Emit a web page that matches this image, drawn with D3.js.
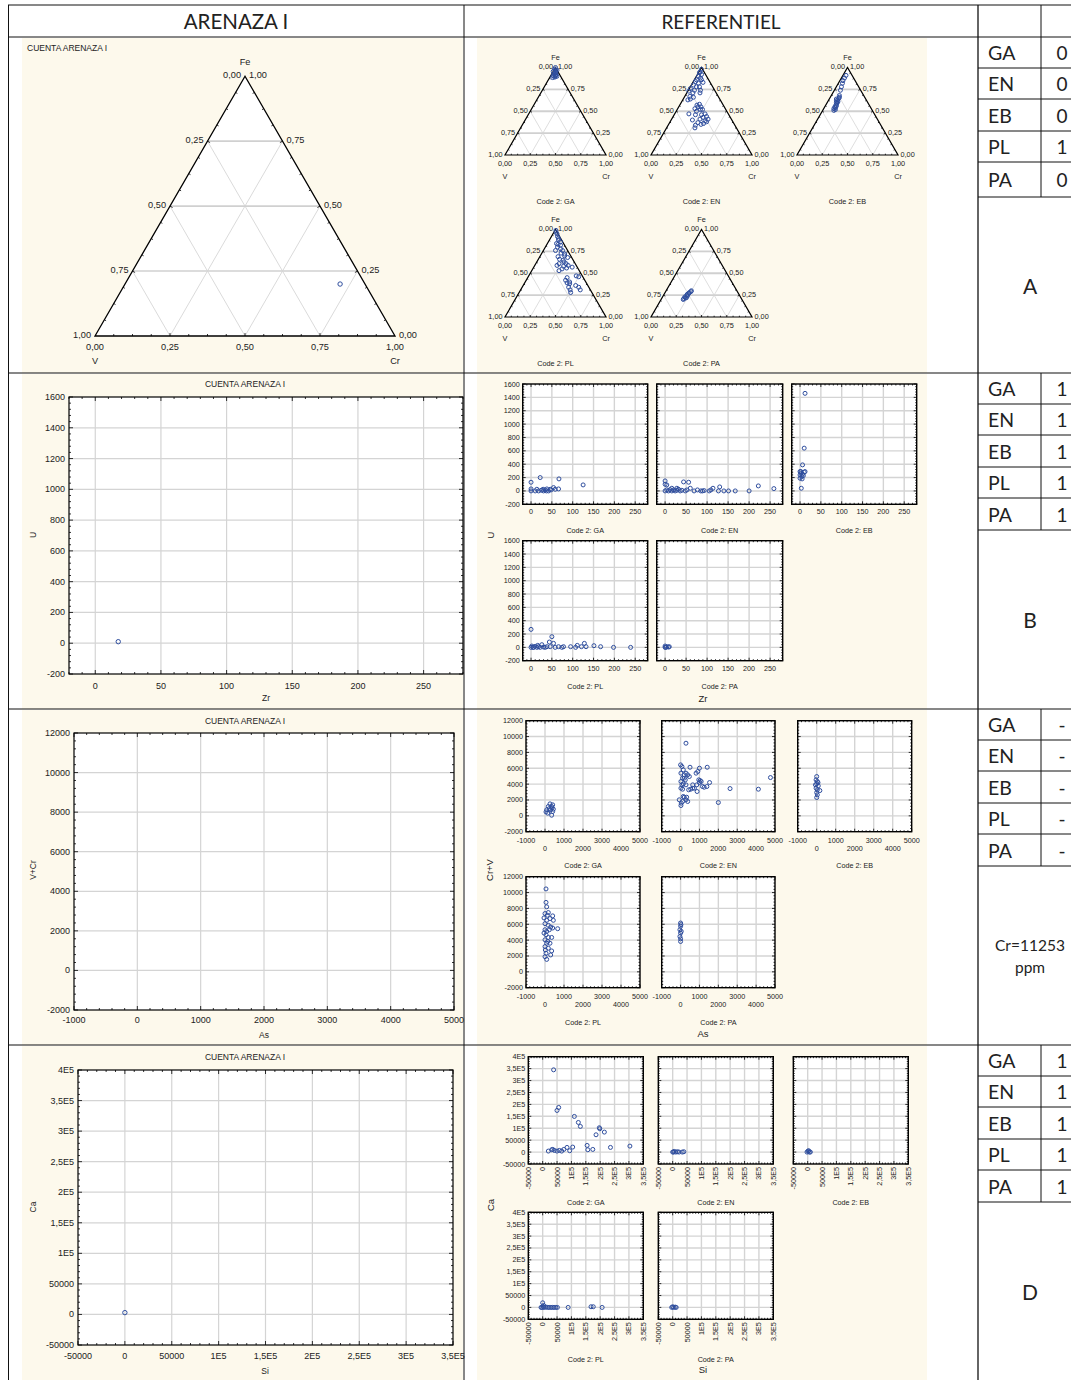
<!DOCTYPE html>
<html><head><meta charset="utf-8">
<script src="https://cdn.jsdelivr.net/npm/d3@7"></script>
<style>body{margin:0;background:#fff;} svg{display:block;}</style>
</head><body>
<svg id="chart" width="1071" height="1380"></svg>
<script>
// ---------------- DATA ----------------
const codes = ["GA","EN","EB","PL","PA"];
const scoreA = ["0","0","0","1","0"];
const scoreB = ["1","1","1","1","1"];
const scoreC = ["-","-","-","-","-"];
const scoreD = ["1","1","1","1","1"];
const sectionNotes = [["A"],["B"],["Cr=11253","ppm"],["D"]];
const headers = ["ARENAZA I","REFERENTIEL"];
const sampleName = "CUENTA ARENAZA I";

// ternary Fe-V-Cr : [Fe, Cr] (V = 1 - Fe - Cr)
const ternTicks = [0,0.25,0.5,0.75,1];
const ternTickLabels = ["0,00","0,25","0,50","0,75","1,00"];
const sampleTern = [[0.20,0.717]];
const ternGA = [[1.00,0.00],[0.98,0.00],[0.97,0.015],[0.955,0.00],[0.94,0.034],[0.93,0.021],[0.91,0.042],[0.905,0.023],[0.89,0.047],[0.90,0.064],[0.885,0.029],[0.92,0.045],[0.97,0.03],[0.95,0.025],[0.90,0.05]];
const ternEN = [[0.98,0.01],[0.95,0.01],[0.94,0.01],[0.92,0.04],[0.90,0.02],[0.88,0.05],[0.86,0.02],[0.86,0.07],[0.84,0.02],[0.82,0.06],[0.83,0.10],[0.80,0.02],[0.78,0.06],[0.78,0.09],[0.76,0.01],[0.74,0.06],[0.74,0.12],[0.73,0.01],[0.71,0.06],[0.71,0.13],[0.67,0.05],[0.66,0.09],[0.64,0.07],[0.63,0.05],[0.57,0.17],[0.58,0.19],[0.55,0.19],[0.55,0.22],[0.53,0.17],[0.52,0.25],[0.52,0.23],[0.50,0.20],[0.47,0.30],[0.46,0.27],[0.47,0.14],[0.46,0.21],[0.44,0.33],[0.43,0.30],[0.41,0.36],[0.41,0.28],[0.40,0.21],[0.39,0.34],[0.38,0.36],[0.37,0.28],[0.36,0.34],[0.35,0.32],[0.34,0.27],[0.31,0.28]];
const ternEB = [[0.91,0.03],[0.88,0.03],[0.85,0.03],[0.82,0.04],[0.78,0.05],[0.74,0.06],[0.68,0.08],[0.66,0.09],[0.65,0.09],[0.64,0.07],[0.63,0.09],[0.61,0.10],[0.59,0.10],[0.57,0.10],[0.55,0.10],[0.53,0.10],[0.52,0.12],[0.51,0.11],[0.54,0.11],[0.56,0.11],[0.60,0.09],[0.62,0.08]];
const ternPL = [[0.99,0.01],[0.95,0.04],[0.92,0.06],[0.88,0.09],[0.84,0.09],[0.83,0.11],[0.82,0.14],[0.76,0.12],[0.78,0.16],[0.76,0.19],[0.73,0.19],[0.72,0.23],[0.69,0.18],[0.68,0.28],[0.66,0.21],[0.65,0.25],[0.61,0.23],[0.61,0.30],[0.59,0.22],[0.58,0.29],[0.59,0.33],[0.57,0.38],[0.55,0.29],[0.53,0.27],[0.47,0.47],[0.46,0.50],[0.42,0.39],[0.39,0.42],[0.38,0.45],[0.36,0.52],[0.34,0.56],[0.34,0.46],[0.31,0.49],[0.31,0.59],[0.28,0.51],[0.45,0.39],[0.97,0.02],[0.90,0.08],[0.86,0.12],[0.80,0.12],[0.70,0.24],[0.63,0.27],[0.56,0.33],[0.40,0.44]];
const ternPA = [[0.29,0.25],[0.27,0.24],[0.25,0.23],[0.23,0.22],[0.21,0.22],[0.22,0.24],[0.28,0.24],[0.24,0.24],[0.20,0.22],[0.30,0.25],[0.26,0.23],[0.22,0.23]];

// Zr vs U
const zrTicks = [0,50,100,150,200,250];
const uTicks = [-200,0,200,400,600,800,1000,1200,1400,1600];
const sampleZrU = [[17.5,10]];
const zrGA = [[0,130],[0,30],[0,0],[22,200],[14,25],[18,0],[25,10],[30,0],[34,15],[38,30],[42,0],[46,25],[48,15],[54,50],[58,25],[66,30],[67,180],[125,90],[10,0],[29,25],[37,0]];
const zrEN = [[0,150],[0,100],[4,90],[0,0],[4,15],[8,0],[12,20],[16,0],[20,15],[24,0],[28,10],[32,25],[36,0],[40,10],[44,135],[48,0],[52,15],[56,130],[60,40],[69,0],[77,15],[85,0],[93,5],[105,0],[114,40],[130,60],[127,0],[140,0],[151,0],[167,0],[200,0],[222,75],[259,35],[89,0],[109,15],[16,40],[28,40]];
const zrEB = [[12,1460],[10,640],[6,390],[12,290],[0,240],[2,265],[4,215],[0,190],[6,250],[2,290],[8,230],[5,180],[3,40],[0,290],[10,280]];
const zrPL = [[0,270],[0,0],[2,20],[6,0],[10,15],[14,0],[18,10],[22,0],[26,40],[30,5],[34,0],[38,10],[44,80],[46,10],[50,160],[54,60],[58,0],[66,10],[74,0],[78,10],[95,10],[107,0],[111,30],[121,10],[128,60],[132,10],[151,25],[167,10],[198,0],[239,0],[5,0],[16,30]];
const zrPA = [[0,20],[2,0],[4,10],[8,5],[0,0],[10,10]];

// As vs Cr+V
const asTicks = [-1000,0,1000,2000,3000,4000,5000];
const crvTicks = [-2000,0,2000,4000,6000,8000,10000,12000];
const sampleAs = [];
const asGA = [[263,1510],[175,1180],[88,760],[53,500],[140,340],[350,1180],[403,1390],[439,840],[403,550],[350,80],[298,760],[228,920],[368,1010]];
const asEN = [[286,9160],[0,6430],[71,6220],[143,5800],[18,5380],[196,5170],[286,5380],[375,5170],[464,4960],[500,6130],[107,4750],[250,4540],[18,4330],[143,4030],[286,3910],[18,3490],[107,3360],[-71,2020],[36,1600],[18,1300],[107,1810],[196,2350],[286,2020],[375,1810],[321,2350],[429,3280],[643,3490],[821,5380],[911,5590],[1000,6010],[1089,4330],[1000,4200],[857,3910],[732,3490],[875,3070],[1161,3700],[1250,3610],[1393,3700],[1411,6130],[1536,4200],[2000,1680],[2620,3440],[4120,3360],[4760,4830],[196,4750],[71,3910],[643,3910],[1036,4450],[964,4540],[536,3360],[143,2440]];
const asEB = [[0,4960],[-33,4540],[33,4330],[0,4030],[83,3780],[-33,3490],[33,3280],[0,2940],[33,2650],[0,2310],[167,3190],[67,4200],[-67,3910]];
const asPL = [[53,10460],[53,8760],[88,8200],[0,7350],[175,7480],[403,7060],[263,6720],[88,6500],[0,6080],[175,5870],[298,5650],[667,5440],[0,5310],[88,5100],[53,4680],[175,4340],[350,4340],[0,4040],[88,3610],[263,3610],[0,3190],[175,2980],[350,2640],[53,2340],[0,1910],[88,1570],[298,2130],[-53,6800],[-53,4890],[228,5310],[439,6500],[403,5530],[123,7140],[18,2760],[140,3830]];
const asPA = [[0,6160],[0,5740],[-35,5310],[0,4890],[-35,4460],[0,4170],[0,3830],[35,5100],[18,5950]];

// Si vs Ca
const siTicks = [-50000,0,50000,100000,150000,200000,250000,300000,350000];
const siTickLabels = ["-50000","0","50000","1E5","1,5E5","2E5","2,5E5","3E5","3,5E5"];
const caTicks = [-50000,0,50000,100000,150000,200000,250000,300000,350000,400000];
const caTickLabels = ["-50000","0","50000","1E5","1,5E5","2E5","2,5E5","3E5","3,5E5","4E5"];
const sampleSi = [[0,3000]];
const siGA = [[38000,345000],[49880,174600],[55680,187200],[110200,149500],[124100,124300],[131100,107600],[197000,102000],[198700,97800],[185600,72600],[214600,83800],[19720,4190],[31320,9780],[34800,11180],[40600,6990],[49880,4190],[58000,6990],[66120,4190],[73430,11180],[84680,19560],[93960,5590],[104400,20950],[154600,27940],[156900,9780],[174300,11180],[235800,19560],[303400,25150]];
const siEN = [[0,0],[5560,2800],[11100,0],[16700,1400],[22200,0],[33300,0],[38900,1400],[3300,0]];
const siEB = [[-2300,0],[1160,4190],[5800,0],[9300,0],[3500,5590]];
const siPL = [[0,19440],[-2270,0],[2270,1390],[-5680,0],[5680,0],[11360,1390],[17040,0],[22720,0],[28400,0],[34080,0],[39760,0],[45440,0],[51120,0],[88600,0],[168100,2780],[176000,2780],[206800,0],[3400,8330]];
const siPA = [[0,2780],[3330,0],[8890,1390],[-3330,0],[12220,0]];

// ---------------- DRAWING ----------------
const svg = d3.select("#chart");
const FONT = "Arial, 'Liberation Sans', sans-serif";
const CAL = "Lato, 'Open Sans', sans-serif";
const BEIGE = "#FDF9EC";
const PT = "#2F4E9E";
const TXT = "#222";
const rowTops = [37, 373, 709, 1045, 1380];

svg.append("rect").attr("width",1071).attr("height",1380).attr("fill","#fff");
for (let i = 0; i < 4; i++) {
  svg.append("rect").attr("x",22).attr("y",rowTops[i]+1).attr("width",441).attr("height",rowTops[i+1]-rowTops[i]-1).attr("fill",BEIGE);
  svg.append("rect").attr("x",477).attr("y",rowTops[i]+1).attr("width",450).attr("height",rowTops[i+1]-rowTops[i]-1).attr("fill",BEIGE);
}

function txt(g, x, y, s, size, anchor, fam, extra) {
  const t = g.append("text").attr("x",x).attr("y",y).text(s)
    .attr("font-family",fam||FONT).attr("font-size",size).attr("fill",TXT)
    .attr("text-anchor",anchor||"middle").attr("dominant-baseline","central");
  if (extra) extra(t);
  return t;
}

function ternary(x0, yb, w, data, o) {
  const g = svg.append("g");
  const h = w*Math.sqrt(3)/2;
  const xs = d3.scaleLinear().domain([0,1]).range([x0, x0+w]);
  const ys = d3.scaleLinear().domain([0,1]).range([yb, yb-h]);
  const P = (cr, fe) => [xs(cr+fe/2), ys(fe)];
  const ln = (a,b,st,sw) => g.append("line").attr("x1",a[0]).attr("y1",a[1]).attr("x2",b[0]).attr("y2",b[1]).attr("stroke",st).attr("stroke-width",sw);
  g.append("path").attr("d", d3.line()([P(0,0),P(1,0),P(0,1)])+"Z").attr("fill","#fff");
  ternTicks.slice(1,4).forEach(k => {
    ln(P(k,0),P(k,1-k),"#d6d6d6",o.dw);
    ln(P(1-k,0),P(0,1-k),"#d6d6d6",o.dw);
    ln(P(0,k),P(1-k,k),"#d0d0d0",o.hw);
  });
  d3.range(1,16).forEach(i => {
    const t = i/16, L = (i%4===0) ? o.tM : o.tm;
    let p = P(t,0); ln(p,[p[0],p[1]-L],"#000",0.8);
    p = P(0,t); ln(p,[p[0]+L*0.866,p[1]+L*0.5],"#000",0.8);
    p = P(1-t,t); ln(p,[p[0]-L*0.866,p[1]+L*0.5],"#000",0.8);
  });
  g.append("path").attr("d", d3.line()([P(0,0),P(1,0),P(0,1)])+"Z").attr("fill","none").attr("stroke","#000").attr("stroke-width",o.ew);
  const fs = o.fs;
  ternTicks.forEach((fe,i) => {
    const pl = P(0,fe), pr = P(1-fe,fe), pb = P(fe,0);
    txt(g, pl[0]-o.lo, pl[1]-1, ternTickLabels[4-i], fs, "end");
    txt(g, pr[0]+o.lo, pr[1]-1, ternTickLabels[i], fs, "start");
    txt(g, pb[0], pb[1]+o.bo, ternTickLabels[i], fs, "middle");
  });
  const ap = P(0,1);
  txt(g, ap[0], ap[1]-o.feo, "Fe", fs, "middle");
  txt(g, P(0,0)[0], yb+o.vo, "V", fs, "middle");
  txt(g, P(1,0)[0], yb+o.vo, "Cr", fs, "middle");
  g.selectAll("circle.pt").data(data).enter().append("circle")
    .attr("cx", d => P(d[1], d[0])[0]).attr("cy", d => P(d[1], d[0])[1])
    .attr("r", o.r).attr("fill","none").attr("stroke",PT).attr("stroke-width",1);
  if (o.code) txt(g, ap[0], yb+o.co, o.code, fs, "middle");
}

// Main ternary
txt(svg, 27, 48, sampleName, 8.5, "start");
ternary(95, 336, 300, sampleTern, {fs:9.2, lo:4, bo:11, feo:14.5, vo:25, dw:0.9, hw:1.6, ew:1.3, tM:3, tm:2, r:2.2});
// Reference ternaries
const ternSets = [ternGA, ternEN, ternEB, ternPL, ternPA];
const smallX = [505, 651, 797];
const smallYB = [155, 317];
ternSets.forEach((d,i) => {
  const r = i < 3 ? 0 : 1, c = i < 3 ? i : i-3;
  ternary(smallX[c], smallYB[r], 101, d, {fs:7.3, lo:2.5, bo:8, feo:10.5, vo:21, dw:0.8, hw:1.8, ew:1.2, tM:2, tm:1.3, r:2, code:"Code 2: "+codes[i], co:46});
});

function scatter(box, xDom, yDom, xT, xL, yT, yL, data, o) {
  const g = svg.append("g");
  const x = d3.scaleLinear().domain(xDom).range([box[0], box[1]]);
  const y = d3.scaleLinear().domain(yDom).range([box[3], box[2]]);
  g.append("rect").attr("x",box[0]).attr("y",box[2]).attr("width",box[1]-box[0]).attr("height",box[3]-box[2]).attr("fill","#fff");
  xT.forEach(v => { if (v > xDom[0] && v < xDom[1]) g.append("line").attr("x1",x(v)).attr("x2",x(v)).attr("y1",box[2]).attr("y2",box[3]).attr("stroke","#d4d4d4").attr("stroke-width",o.gw); });
  yT.forEach(v => { if (v > yDom[0] && v < yDom[1]) g.append("line").attr("y1",y(v)).attr("y2",y(v)).attr("x1",box[0]).attr("x2",box[1]).attr("stroke","#d4d4d4").attr("stroke-width",o.gw); });
  const cid = "c" + Math.round(box[0]) + "_" + Math.round(box[2]);
  g.append("clipPath").attr("id",cid).append("rect").attr("x",box[0]-3).attr("y",box[2]-3).attr("width",box[1]-box[0]+6).attr("height",box[3]-box[2]+6);
  g.append("g").attr("clip-path","url(#"+cid+")").selectAll("circle").data(data).enter().append("circle")
    .attr("cx", d => x(d[0])).attr("cy", d => y(d[1])).attr("r", o.r)
    .attr("fill","none").attr("stroke",PT).attr("stroke-width",1);
  const tk = (T, dom, sub) => {
    const st = (T[1]-T[0])/sub, out = [];
    for (let v = Math.ceil(dom[0]/st)*st; v <= dom[1]+1e-9; v += st) out.push([v, T.some(t => Math.abs(t-v) < st/10)]);
    return out;
  };
  tk(xT, xDom, o.sub).forEach(([v,maj]) => {
    const L = maj ? o.tM : o.tm, px = x(v);
    g.append("line").attr("x1",px).attr("x2",px).attr("y1",box[3]).attr("y2",box[3]-L).attr("stroke","#000").attr("stroke-width",0.8);
    g.append("line").attr("x1",px).attr("x2",px).attr("y1",box[2]).attr("y2",box[2]+L).attr("stroke","#000").attr("stroke-width",0.8);
  });
  tk(yT, yDom, o.sub).forEach(([v,maj]) => {
    const L = maj ? o.tM : o.tm, py = y(v);
    g.append("line").attr("y1",py).attr("y2",py).attr("x1",box[0]).attr("x2",box[0]+L).attr("stroke","#000").attr("stroke-width",0.8);
    g.append("line").attr("y1",py).attr("y2",py).attr("x1",box[1]).attr("x2",box[1]-L).attr("stroke","#000").attr("stroke-width",0.8);
  });
  g.append("rect").attr("x",box[0]).attr("y",box[2]).attr("width",box[1]-box[0]).attr("height",box[3]-box[2]).attr("fill","none").attr("stroke","#000").attr("stroke-width",o.fw);
  if (!o.noY) yT.forEach((v,i) => txt(g, box[0]-o.ylo, y(v), yL[i], o.fs, "end"));
  xT.forEach((v,i) => {
    if (o.mode === "stagger") txt(g, x(v), box[3] + (i%2===0 ? o.xlo : o.xlo2), xL[i], o.fs, "middle");
    else if (o.mode === "rotate") txt(g, 0, 0, xL[i], o.fs, "end", null, t => t.attr("transform","translate("+x(v)+","+(box[3]+o.xlo)+") rotate(-90)"));
    else txt(g, x(v), box[3]+o.xlo, xL[i], o.fs, "middle");
  });
  if (o.code) txt(g, (box[0]+box[1])/2, o.codeY, o.code, o.fs, "middle");
}

const fmt = a => a.map(v => String(v));
const mainOpt = {fs:9, gw:1.2, r:2.2, sub:5, tM:4, tm:2, fw:1.2, ylo:4};
const smallOpt = {fs:7.2, gw:1.4, r:2, sub:5, tM:3, tm:1.5, fw:1.4, ylo:3};

// Section B
txt(svg, 245, 384, sampleName, 8.5);
scatter([69,463,397,674], [-20,280], [-200,1600], zrTicks, fmt(zrTicks), uTicks, fmt(uTicks), sampleZrU, Object.assign({}, mainOpt, {xlo:11.5}));
txt(svg, 266, 698, "Zr", 8.5);
txt(svg, 0, 0, "U", 8.5, "middle", null, t => t.attr("transform","translate(33,535) rotate(-90)"));
const zrSets = [zrGA, zrEN, zrEB, zrPL, zrPA];
const bX = [[522.7,647.7],[656.7,782.7],[791.7,916.7]];
const bY = [[384,504.3],[540.7,660.7]];
const bCodeY = [530, 686];
zrSets.forEach((d,i) => {
  const r = i < 3 ? 0 : 1, c = i < 3 ? i : i-3;
  scatter([bX[c][0],bX[c][1],bY[r][0],bY[r][1]], [-20,280], [-200,1600], zrTicks, fmt(zrTicks), uTicks, fmt(uTicks), d, Object.assign({}, smallOpt, {xlo:7.5, noY:c>0, code:"Code 2: "+codes[i], codeY:bCodeY[r]}));
});
txt(svg, 703, 698, "Zr", 9.5);
txt(svg, 0, 0, "U", 9.5, "middle", null, t => t.attr("transform","translate(490,535) rotate(-90)"));

// Section C
txt(svg, 245, 721, sampleName, 8.5);
scatter([74,454,733,1010], [-1000,5000], [-2000,12000], asTicks, fmt(asTicks), crvTicks, fmt(crvTicks), sampleAs, Object.assign({}, mainOpt, {xlo:10}));
txt(svg, 264, 1035, "As", 8.5);
txt(svg, 0, 0, "V+Cr", 8.5, "middle", null, t => t.attr("transform","translate(33,870) rotate(-90)"));
const asSets = [asGA, asEN, asEB, asPL, asPA];
const cX = [[526,640],[661.7,775],[797.7,911.7]];
const cY = [[720.7,831.7],[876.7,987.7]];
const cCodeY = [865, 1022];
asSets.forEach((d,i) => {
  const r = i < 3 ? 0 : 1, c = i < 3 ? i : i-3;
  scatter([cX[c][0],cX[c][1],cY[r][0],cY[r][1]], [-1000,5000], [-2000,12000], asTicks, fmt(asTicks), crvTicks, fmt(crvTicks), d, Object.assign({}, smallOpt, {mode:"stagger", xlo:8.5, xlo2:16.5, noY:c>0, code:"Code 2: "+codes[i], codeY:cCodeY[r]}));
});
txt(svg, 703, 1033, "As", 9.5);
txt(svg, 0, 0, "Cr+V", 9.5, "middle", null, t => t.attr("transform","translate(489,870) rotate(-90)"));

// Section D
txt(svg, 245, 1057, sampleName, 8.5);
scatter([78,453,1070,1345], [-50000,350000], [-50000,400000], siTicks, siTickLabels, caTicks, caTickLabels, sampleSi, Object.assign({}, mainOpt, {xlo:11}));
txt(svg, 265, 1371, "Si", 8.5);
txt(svg, 0, 0, "Ca", 8.5, "middle", null, t => t.attr("transform","translate(33,1207) rotate(-90)"));
const siSets = [siGA, siEN, siEB, siPL, siPA];
const dX = [[528.3,643.3],[658.3,773.3],[793.3,908.3]];
const dY = [[1056.7,1164],[1212.3,1319.3]];
const dCodeY = [1202, 1359];
siSets.forEach((d,i) => {
  const r = i < 3 ? 0 : 1, c = i < 3 ? i : i-3;
  scatter([dX[c][0],dX[c][1],dY[r][0],dY[r][1]], [-50000,350000], [-50000,400000], siTicks, siTickLabels, caTicks, caTickLabels, d, Object.assign({}, smallOpt, {mode:"rotate", xlo:3, noY:c>0, code:"Code 2: "+codes[i], codeY:dCodeY[r]}));
});
txt(svg, 703, 1369, "Si", 9.5);
txt(svg, 0, 0, "Ca", 9.5, "middle", null, t => t.attr("transform","translate(490,1205) rotate(-90)"));

// ---------------- TABLE ----------------
const T = svg.append("g");
const hl = (x1,x2,y,sw) => T.append("line").attr("x1",x1).attr("x2",x2).attr("y1",y).attr("y2",y).attr("stroke","#111").attr("stroke-width",sw||1);
const vl = (x,y1,y2,sw) => T.append("line").attr("x1",x).attr("x2",x).attr("y1",y1).attr("y2",y2).attr("stroke","#111").attr("stroke-width",sw||1);
txt(T, 236, 21, headers[0], 20.5, "middle", CAL);
txt(T, 721, 21, headers[1], 19, "middle", CAL);
hl(8,1071,5); hl(8,1071,37);
[373,709,1045].forEach(y => hl(8,1071,y,1.2));
vl(8.5,5,1380); vl(464,5,1380); vl(978,5,1380,1.3);
vl(1041,5,37);
const scores = [scoreA, scoreB, scoreC, scoreD];
const subOffA = [0,31,62,94,125,160];
const subOff = [0,31,62,94,125,157];
scores.forEach((sc, s) => {
  const top = rowTops[s], offs = s === 0 ? subOffA : subOff;
  codes.forEach((c,j) => {
    const cy = top + (offs[j]+offs[j+1])/2;
    txt(T, 988, cy, c, 19.5, "start", CAL);
    txt(T, 1062, cy, sc[j], 19, "middle", CAL);
    hl(978, 1071, top+offs[j+1]);
  });
  vl(1041, top, top+offs[5]);
  const notes = sectionNotes[s];
  const mid = (top+offs[5]+rowTops[s+1])/2;
  if (notes.length === 1) txt(T, 1030, mid, notes[0], 21, "middle", CAL);
  else notes.forEach((n,k) => txt(T, 1030, mid + (k-0.5)*22, n, 15.5, "middle", CAL));
});
</script>
</body></html>
